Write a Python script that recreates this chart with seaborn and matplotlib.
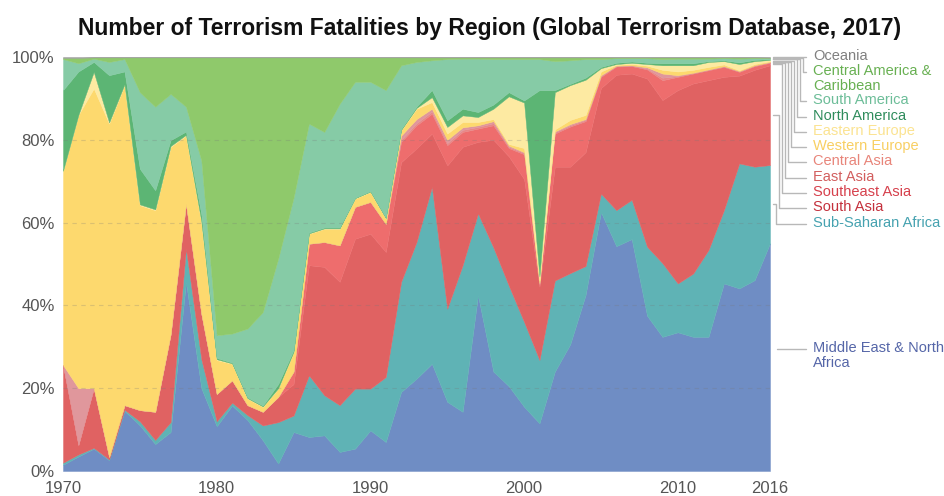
import matplotlib
matplotlib.use("Agg")
import matplotlib.pyplot as plt
from matplotlib.lines import Line2D
import pandas as pd
import seaborn as sns

# share of fatalities (%) per region, 1970-2016
years = list(range(1970, 2017))

mena = [1.5, 3.5, 5.4, 2.6, 14.5, 11, 6.5, 9.4, 45.6, 20,
        10.8, 15.8, 12.3, 7.4, 1.8, 9.4, 8.2, 8.6, 4.6, 5.4,
        9.8, 7, 19.1, 22.3, 25.9, 16.7, 14.3, 42.4, 24, 20.5,
        15.5, 11.5, 24, 30.6, 42.5, 62.5, 54.3, 56, 37.5, 32.4,
        33.5, 32.4, 32.4, 45.3, 44.1, 46.1, 55]
ssa = [0.5, 0.5, 0.2, 0.2, 0.3, 1, 1, 2.4, 8.1, 7,
       1.2, 0.7, 1.2, 3.6, 10, 4, 14.9, 9.7, 11.3, 14.5,
       10.1, 15.7, 26.6, 33, 42.7, 22.5, 35.4, 19.8, 30, 24.3,
       20.5, 15.3, 22, 17.2, 7, 4.5, 8.7, 9.5, 16.7, 17.8,
       11.8, 15.3, 21, 17.7, 30.2, 27.4, 18.9]
south_asia = [23.6, 2.3, 14.4, 0.6, 1.1, 2.7, 6.8, 21.2, 10.9, 11,
              6.6, 5.4, 2.4, 3.3, 6.1, 7.6, 26.6, 31, 29.8, 36.2,
              37.4, 30.2, 28.9, 22.6, 12.9, 34.6, 28.6, 17.3, 26, 31.2,
              34.5, 17.7, 27.5, 25.7, 27.5, 25.5, 32.7, 30.5, 40.6, 39.4,
              46.7, 45.9, 41, 32.2, 21.2, 23.4, 24.1]
southeast_asia = [0, 0, 0, 0, 0, 0, 0, 0, 0, 0,
                  0, 0, 0, 0, 0, 3, 5.2, 6, 8.8, 7.7,
                  7.7, 6.8, 4.9, 5.6, 4.8, 4.9, 3.6, 3.2, 3.5, 2,
                  6, 0.5, 8, 9.7, 7.5, 2.7, 2, 1.8, 2.2, 4.8,
                  3.2, 2.4, 2.4, 2.4, 0.9, 0.9, 0.6]
east_asia = [0, 0, 0, 0, 0, 0, 0, 0, 0, 0,
             0, 0, 0, 0, 0, 0, 0, 0, 0, 0,
             0, 0, 0.5, 0.5, 0.5, 0.5, 0.5, 0.4, 0.5, 0.3,
             0.3, 0.2, 0.3, 0.3, 0.3, 0.2, 0.1, 0.1, 0.2, 0.6,
             0.2, 0.1, 0.1, 0.1, 0.1, 0.1, 0.1]
central_asia = [0, 13.7, 0, 0, 0, 0, 0, 0, 0, 0,
                0, 0, 0, 0, 0, 0, 0, 0, 0, 0,
                0, 0, 1, 1, 0.7, 0.8, 0.6, 0.4, 0.5, 0.3,
                0.2, 0.2, 0.2, 0.3, 0.2, 0.2, 0.1, 0.1, 0.3, 1,
                0.2, 0.1, 0.1, 0.1, 0.1, 0.1, 0.1]
western_europe = [46.9, 66, 72.4, 80.5, 77.3, 49.5, 48.7, 45.3, 16.4, 22,
                  8.2, 4, 1.6, 1.2, 2, 4.7, 2.4, 3.2, 4, 2,
                  2.4, 1.3, 1.3, 2.5, 1.6, 1.5, 1.3, 0.8, 0.5, 0.4,
                  1, 0.6, 0.5, 1, 1, 0.9, 0.2, 0.3, 0.4, 0.9,
                  0.9, 0.7, 0.6, 0.4, 0.2, 0.3, 0.2]
eastern_europe = [0, 0, 4, 0.3, 0.2, 0.2, 0.2, 0.2, 0.2, 0.3,
                  0.2, 0.1, 0.1, 0.1, 0.1, 0.1, 0.1, 0.1, 0.1, 0.1,
                  0.1, 0.1, 0.1, 0.2, 1.2, 1.6, 1.6, 1.2, 2.5, 11.5,
                  11, 1, 9, 8.4, 8.5, 0.8, 0.2, 0.3, 0.4, 1.1,
                  1.5, 1.1, 1.2, 0.8, 1.5, 0.7, 0.3]
north_america = [19.5, 10.5, 2.4, 11.4, 3.1, 8.6, 4.6, 1.4, 0.8, 1.7,
                 0.3, 0.2, 0.2, 0.2, 1, 0.4, 0.2, 0.2, 0.2, 0.1,
                 0.1, 0.1, 0.2, 0.3, 1.7, 1.6, 1.6, 1.2, 1, 1,
                 0.5, 45, 0.5, 0.3, 0.5, 0.3, 0.3, 0.3, 0.3, 0.5,
                 0.5, 0.5, 0.2, 0.2, 0.4, 0.3, 0.2]
south_america = [7.5, 2, 0.8, 3.2, 3, 18.5, 20.2, 11.2, 6, 13,
                 5.5, 7, 16.6, 22.6, 30.3, 36.8, 26.3, 23.1, 29.9, 28,
                 26.4, 30.8, 15.4, 10.8, 7.2, 14.8, 12.1, 12.9, 11, 8,
                 10, 7.5, 7, 5.7, 4.5, 1.9, 1.1, 0.8, 1.1, 1,
                 1.1, 1.1, 0.6, 0.5, 0.9, 0.4, 0.2]
central_america = [0.3, 1.3, 0.3, 1.1, 0.4, 8.4, 11.9, 8.8, 11.9, 24.9,
                   67.1, 66.7, 65.5, 61.5, 48.6, 33.9, 16, 18, 11.2, 5.9,
                   5.9, 7.9, 1.9, 1.1, 0.7, 0.4, 0.3, 0.3, 0.4, 0.4,
                   0.4, 0.4, 0.9, 0.7, 0.4, 0.4, 0.2, 0.2, 0.2, 0.4,
                   0.3, 0.3, 0.3, 0.2, 0.3, 0.2, 0.15]
oceania = [0.2, 0.2, 0.1, 0.1, 0.1, 0.1, 0.1, 0.1, 0.1, 0.1,
           0.1, 0.1, 0.1, 0.1, 0.1, 0.1, 0.1, 0.1, 0.1, 0.1,
           0.1, 0.1, 0.1, 0.1, 0.1, 0.1, 0.1, 0.1, 0.1, 0.1,
           0.1, 0.1, 0.1, 0.1, 0.1, 0.1, 0.1, 0.1, 0.1, 0.1,
           0.1, 0.1, 0.1, 0.1, 0.1, 0.1, 0.15]

regions = ["Middle East & North Africa", "Sub-Saharan Africa", "South Asia",
           "Southeast Asia", "East Asia", "Central Asia", "Western Europe",
           "Eastern Europe", "North America", "South America",
           "Central America & Caribbean", "Oceania"]
labels = ["Middle East & North\nAfrica", "Sub-Saharan Africa", "South Asia",
          "Southeast Asia", "East Asia", "Central Asia", "Western Europe",
          "Eastern Europe", "North America", "South America",
          "Central America &\nCaribbean", "Oceania"]

fill_colors = ["#6f8dc4", "#5fb3b5", "#e06262", "#ee6d6d", "#e98787", "#e0979c",
               "#fdd96e", "#fdeaa2", "#5cb574", "#86cba6", "#8fc96b", "#9a9a9a"]
text_colors = ["#5566a8", "#46a2b0", "#c4303c", "#d6404c", "#d25e5e", "#e8857a",
               "#f8cf62", "#fbe391", "#2f8c5c", "#6cbd98", "#68b052", "#808080"]

df = pd.DataFrame(dict(zip(regions, [mena, ssa, south_asia, southeast_asia,
                                     east_asia, central_asia, western_europe,
                                     eastern_europe, north_america, south_america,
                                     central_america, oceania])), index=years)
shares = df.div(df.sum(axis=1), axis=0) * 100

sns.set_theme(style="white")
plt.rcParams["font.family"] = ["Liberation Sans", "DejaVu Sans"]

W, H = 945, 496
fig = plt.figure(figsize=(W / 100, H / 100), dpi=100)
ax = fig.add_axes([63 / W, 25 / H, 707 / W, 414 / H])

ax.stackplot(shares.index, [shares[r].values for r in regions],
             colors=fill_colors, linewidth=0.3)
for c, col in zip(ax.collections, fill_colors):
    c.set_edgecolor(col)

ax.set_xlim(1970, 2016)
ax.set_ylim(0, 100)
for v in [20, 40, 60, 80]:
    ax.axhline(v, color="#777777", lw=0.8, ls=(0, (4, 4)), alpha=0.25, zorder=3)

ax.set_xticks([1970, 1980, 1990, 2000, 2010, 2016])
ax.set_yticks([0, 20, 40, 60, 80, 100])
ax.set_yticklabels(["0%", "20%", "40%", "60%", "80%", "100%"])
ax.tick_params(axis="x", length=0, labelsize=12, colors="#555555", pad=7)
ax.tick_params(axis="y", length=0, labelsize=12, colors="#555555", pad=6)
sns.despine(ax=ax, left=True, bottom=True, top=True, right=True)

fig.text(490 / W, 1 - 29 / H,
         "Number of Terrorism Fatalities by Region (Global Terrorism Database, 2017)",
         ha="center", va="center", fontsize=16.5, fontweight="bold", color="#111111")

# label column on the right with elbow connectors to the 2016 edge
label_y = {"Oceania": 57, "Central America & Caribbean": 72, "South America": 101,
           "North America": 117, "Eastern Europe": 132, "Western Europe": 147,
           "Central Asia": 162, "East Asia": 178, "Southeast Asia": 193,
           "South Asia": 208, "Sub-Saharan Africa": 224,
           "Middle East & North Africa": 349}
elbow_x = {"Oceania": 790, "Central America & Caribbean": 803, "South America": 800,
           "North America": 797, "Eastern Europe": 794, "Western Europe": 791,
           "Central Asia": 788, "East Asia": 785, "Southeast Asia": 782,
           "South Asia": 779, "Sub-Saharan Africa": 776,
           "Middle East & North Africa": 790}

last = shares.loc[2016]
cum = last.cumsum()
fig.canvas.draw()
to_fig = fig.transFigure.inverted()
line_col = "#b8b8b8"
for r, lab, tc in zip(regions, labels, text_colors):
    mid = cum[r] - last[r] / 2
    sx, sy = to_fig.transform(ax.transData.transform((2016, mid)))
    ly = 1 - label_y[r] / H
    ex = elbow_x[r] / W
    if r == "Middle East & North Africa":
        xs, ys = [777 / W, 806 / W], [ly, ly]
    else:
        xs = [sx + 3 / W, ex, ex, 806 / W]
        ys = [sy, sy, ly, ly]
    fig.add_artist(Line2D(xs, ys, color=line_col, lw=1))
    fig.text(813 / W, ly + 8 / H, lab, ha="left", va="top", fontsize=10.5,
             color=tc, linespacing=1.05)

fig.savefig("out.png", dpi=100)
